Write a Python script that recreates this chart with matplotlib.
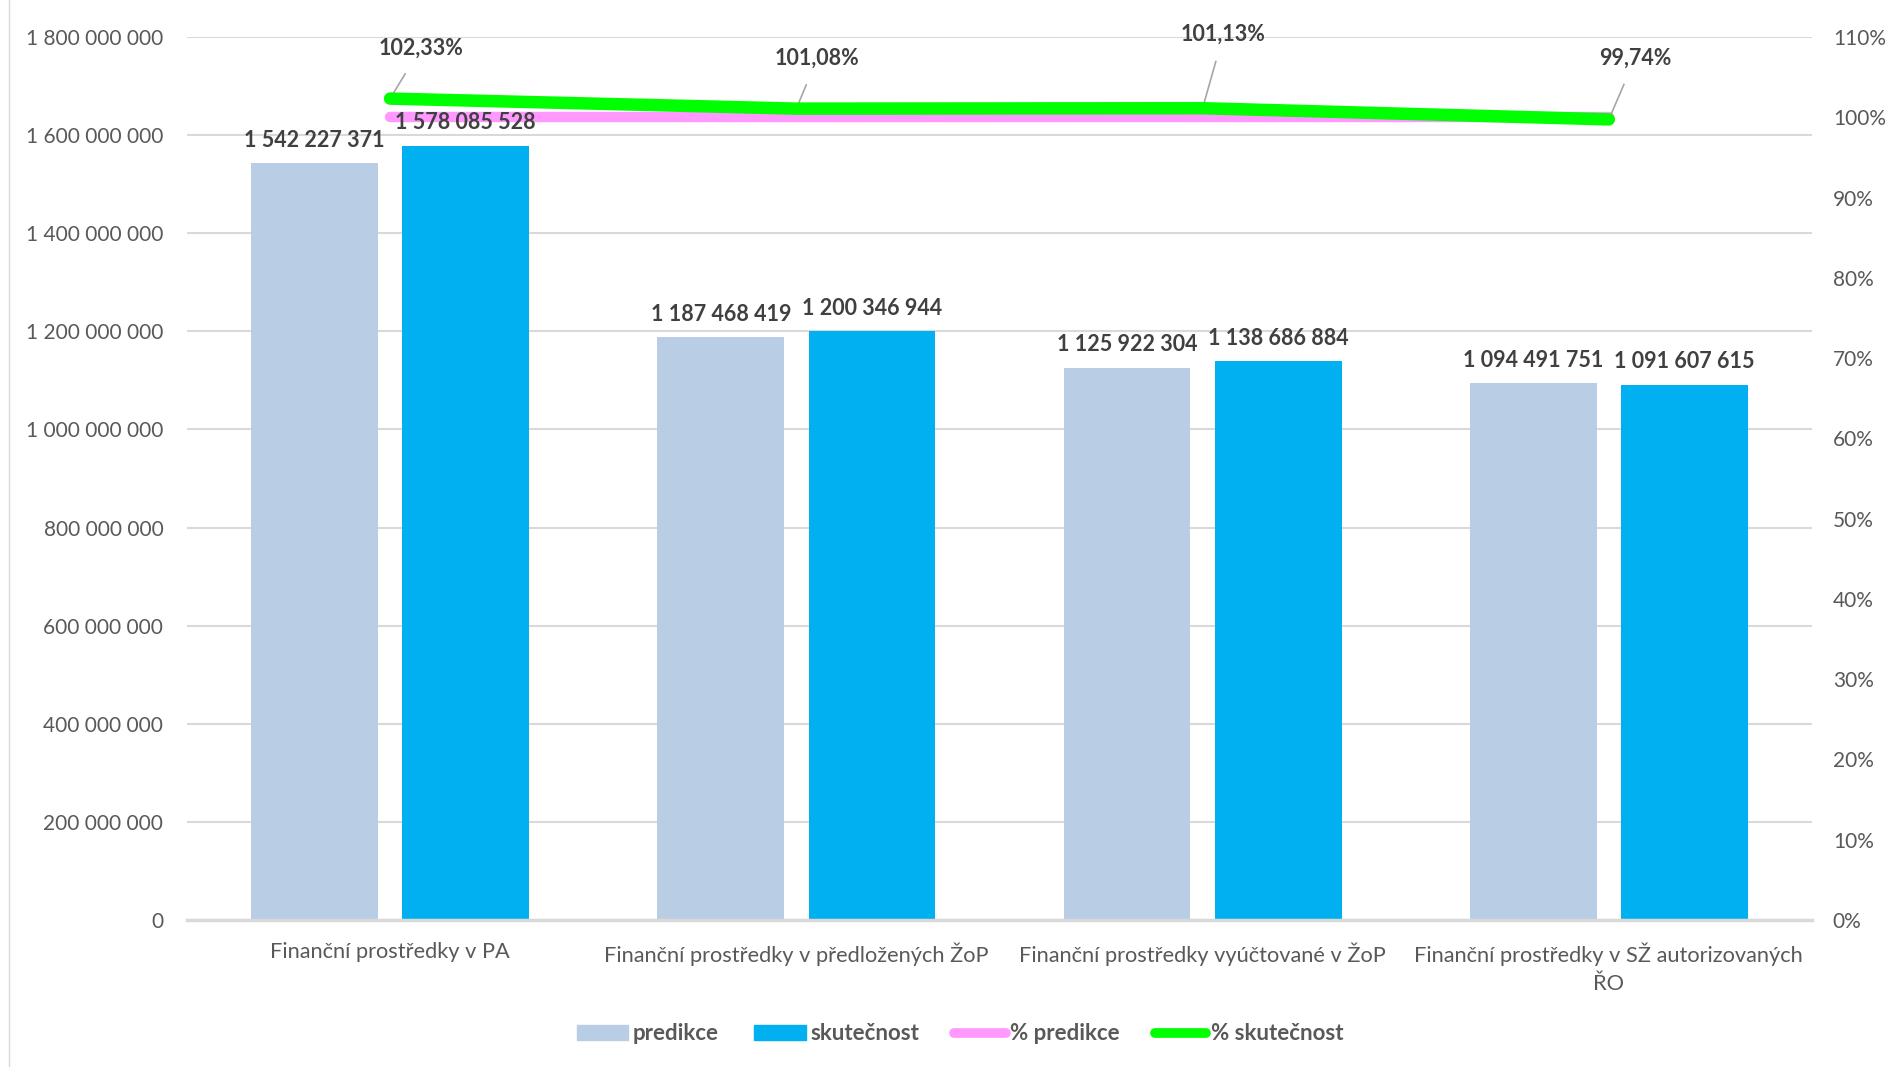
import matplotlib
matplotlib.use("Agg")
import matplotlib.pyplot as plt
from matplotlib.patches import Patch
from matplotlib.lines import Line2D
from matplotlib.ticker import FuncFormatter, MultipleLocator
import numpy as np

plt.rcParams["font.family"] = ["Lato", "DejaVu Sans"]

# data
categories = ["Finanční prostředky v PA",
              "Finanční prostředky v předložených ŽoP",
              "Finanční prostředky vyúčtované v ŽoP",
              "Finanční prostředky v SŽ autorizovaných\nŘO"]
predikce = [1542227371, 1187468419, 1125922304, 1094491751]
skutecnost = [1578085528, 1200346944, 1138686884, 1091607615]
pct_predikce = [100.0, 100.0, 100.0, 100.0]
pct_skutecnost = [102.33, 101.08, 101.13, 99.74]
# offsets (points) of the % labels from their points
pct_offsets = [(22, 36), (15, 36), (15, 53), (19, 44)]

C_PRED = "#B9CDE5"
C_SKUT = "#00B0F0"
C_PPRED = "#FF99FF"
C_PSKUT = "#00FF00"
TXT = "#595959"
LBL = "#404040"


def sp(v):
    return f"{int(round(v)):,}".replace(",", " ")


fig = plt.figure(figsize=(18.94, 10.67), dpi=100)
ax = fig.add_axes([0.0987, 0.1378, 0.858, 0.8275])
x = np.arange(len(categories))
w = 0.312
off = 0.186
b1 = ax.bar(x - off, predikce, w, color=C_PRED, zorder=2)
b2 = ax.bar(x + off, skutecnost, w, color=C_SKUT, zorder=2)

ax.set_xlim(-0.5, len(categories) - 0.5)
ax.set_ylim(0, 1.8e9)
ax.yaxis.set_major_locator(MultipleLocator(2e8))
ax.yaxis.set_major_formatter(FuncFormatter(lambda v, p: sp(v)))
ax.set_xticks(x)
ax.set_xticklabels(categories, fontsize=15.7, color=TXT, linespacing=1.55)
ax.tick_params(axis="y", labelsize=15, colors=TXT, length=0, pad=17)
ax.tick_params(axis="x", length=0, pad=16)
ax.grid(axis="y", color="#D9D9D9", lw=1.5, zorder=0)
for s in ("top", "right", "left"):
    ax.spines[s].set_visible(False)
ax.spines["bottom"].set_color("#D9D9D9")
ax.spines["bottom"].set_linewidth(2.5)

ax2 = ax.twinx()
ax2.set_ylim(0, 110)
ax2.yaxis.set_major_locator(MultipleLocator(10))
ax2.yaxis.set_major_formatter(FuncFormatter(lambda v, p: f"{v:.0f}%"))
ax2.tick_params(axis="y", labelsize=15, colors=TXT, length=0, pad=15)
for s in ax2.spines.values():
    s.set_visible(False)
ax2.plot(x, pct_predikce, color=C_PPRED, lw=7.5, solid_capstyle="round", zorder=3)
ax2.plot(x, pct_skutecnost, color=C_PSKUT, lw=9, solid_capstyle="round", zorder=4)
for xi, v, (dx, dy) in zip(x, pct_skutecnost, pct_offsets):
    ax2.annotate(f"{v:.2f}%".replace(".", ","), (xi, v), xytext=(dx, dy),
                 textcoords="offset points", ha="center", va="center",
                 fontsize=15.5, fontweight="bold", color=LBL,
                 arrowprops=dict(arrowstyle="-", color="#A6A6A6", lw=1.2,
                                 shrinkA=10, shrinkB=0))

# bar value labels drawn on top of the lines
for bars in (b1, b2):
    for r in bars:
        ax2.annotate(sp(r.get_height()), (r.get_x() + r.get_width() / 2, r.get_height()),
                     xycoords=ax.transData, xytext=(0, 9), textcoords="offset points",
                     ha="center", va="bottom", fontsize=15.5, fontweight="bold",
                     color=LBL, zorder=6)

handles = [Patch(color=C_PRED, label="predikce"),
           Patch(color=C_SKUT, label="skutečnost"),
           Line2D([], [], color=C_PPRED, lw=7, solid_capstyle="round", label="% predikce"),
           Line2D([], [], color=C_PSKUT, lw=7, solid_capstyle="round", label="% skutečnost")]
leg = fig.legend(handles=handles, loc="center", bbox_to_anchor=(0.507, 0.031), ncol=4,
                 frameon=False, handlelength=2.3, handleheight=0.65,
                 handletextpad=0.2, columnspacing=1.6, prop={"size": 16, "weight": "bold"})
for t in leg.get_texts():
    t.set_color(TXT)

fig.add_artist(Line2D([0.0045, 0.0045], [0.0, 1.0], color="#D9D9D9", lw=1))
fig.savefig("out.png", dpi=100)
